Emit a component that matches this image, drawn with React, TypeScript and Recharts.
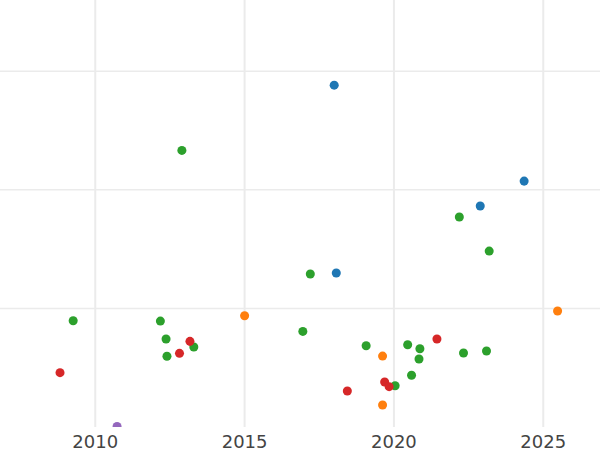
import React from 'react';
import { ScatterChart, Scatter, XAxis, YAxis, ZAxis, ReferenceLine } from 'recharts';

const blueYears = [2018.0, 2024.36, 2022.89, 2018.07];
const blueValues = [2.882, 2.073, 1.863, 1.298];

const greenYears = [2012.9, 2022.19, 2023.19, 2017.2, 2009.26, 2012.18, 2012.37, 2013.3, 2012.4, 2016.95, 2019.07, 2020.46, 2020.87, 2020.84, 2022.33, 2023.1, 2020.59, 2020.04];
const greenValues = [2.332, 1.77, 1.483, 1.29, 0.896, 0.893, 0.742, 0.674, 0.596, 0.806, 0.685, 0.694, 0.66, 0.573, 0.624, 0.641, 0.436, 0.348];

const redYears = [2008.82, 2013.17, 2012.82, 2021.44, 2018.44, 2019.69, 2019.84];
const redValues = [0.458, 0.722, 0.621, 0.742, 0.303, 0.379, 0.34];

const orangeYears = [2015.0, 2025.48, 2019.62, 2019.62];
const orangeValues = [0.938, 0.978, 0.598, 0.185];

const purpleYears = [2010.73];
const purpleValues = [0.005];

const xTicks = [2010, 2015, 2020, 2025];
const yTicks = [1, 2, 3];

const toPoints = (xs: number[], ys: number[]) => xs.map((x, i) => ({ x, y: ys[i] }));

const series = [
  { name: 'blue', color: '#1f77b4', data: toPoints(blueYears, blueValues) },
  { name: 'orange', color: '#ff7f0e', data: toPoints(orangeYears, orangeValues) },
  { name: 'green', color: '#2ca02c', data: toPoints(greenYears, greenValues) },
  { name: 'red', color: '#d62728', data: toPoints(redYears, redValues) },
  { name: 'purple', color: '#9467bd', data: toPoints(purpleYears, purpleValues) },
];

const gridColor = '#ebebeb';

export default function App() {
  return (
    <div style={{ position: 'absolute', left: 0, top: 0, width: 600, height: 450, background: '#fff' }}>
      <ScatterChart width={600} height={450} margin={{ top: 0, right: 0, bottom: 0, left: 0 }}>
        <XAxis
          type="number"
          dataKey="x"
          domain={[2006.81, 2026.9]}
          ticks={xTicks}
          allowDataOverflow
          axisLine={false}
          tickLine={false}
          height={23}
          tick={{ fill: '#444', fontSize: 18, fontFamily: 'DejaVu Sans' }}
        />
        <YAxis type="number" dataKey="y" domain={[0, 3.6]} ticks={yTicks} allowDataOverflow hide width={0} />
        <ZAxis range={[80, 80]} />
        {xTicks.map((t) => (
          <ReferenceLine key={'x' + t} x={t} stroke={gridColor} strokeWidth={2} />
        ))}
        {yTicks.map((t) => (
          <ReferenceLine key={'y' + t} y={t} stroke={gridColor} strokeWidth={1.5} />
        ))}
        {series.map((s) => (
          <Scatter key={s.name} name={s.name} data={s.data} fill={s.color} isAnimationActive={false} />
        ))}
      </ScatterChart>
    </div>
  );
}
